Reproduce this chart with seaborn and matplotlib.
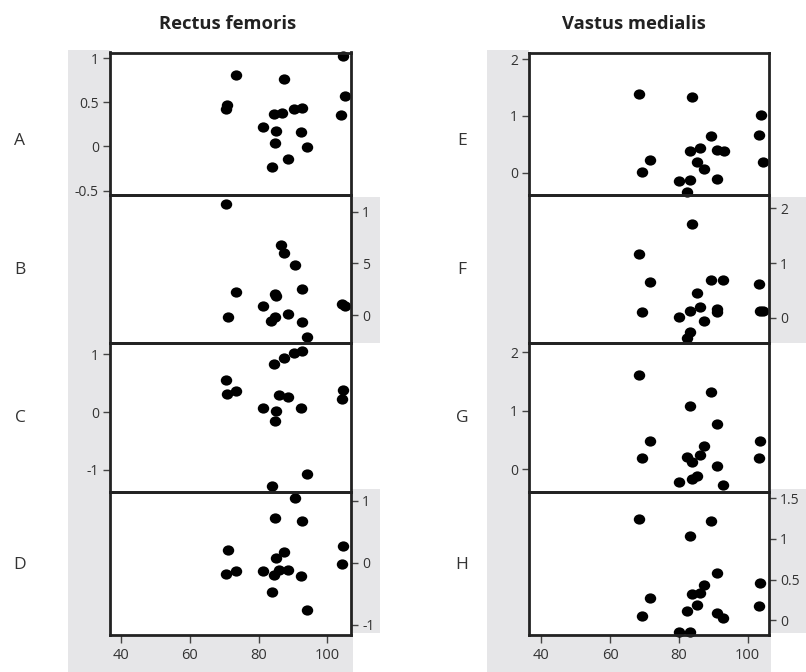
import matplotlib
matplotlib.use("Agg")
import matplotlib.pyplot as plt
from matplotlib.patches import Rectangle
from matplotlib.path import Path
from matplotlib.transforms import Affine2D
import seaborn as sns
import pandas as pd

sns.set_theme(style="ticks")
plt.rcParams['font.family'] = ['Open Sans', 'DejaVu Sans']

# ---------------- data ----------------
col_titles = ["Rectus femoris", "Vastus medialis"]
row_labels_left = ["A", "B", "C", "D"]
row_labels_right = ["E", "F", "G", "H"]
x_ticks = [40, 60, 80, 100]

a_x = [73.4, 70.7, 70.4, 87.4, 104.5, 105.2, 104.0, 81.4, 84.5, 86.7, 90.4, 92.7, 85.1, 92.4, 84.8, 94.0, 88.7, 83.8]
a_y = [0.81, 0.47, 0.43, 0.76, 1.02, 0.575, 0.355, 0.22, 0.367, 0.38, 0.43, 0.44, 0.17, 0.16, 0.04, -0.01, -0.14, -0.23]
a_ticks = [-0.5, 0, 0.5, 1]
a_labels = ["-0.5", "0", "0.5", "1"]

b_x = [70.5, 86.5, 87.4, 90.6, 73.5, 84.8, 85.2, 92.6, 81.4, 104.2, 105.2, 71.0, 88.5, 84.8, 83.5, 92.6, 94.0]
b_y = [1.08, 0.675, 0.60, 0.49, 0.227, 0.205, 0.185, 0.253, 0.09, 0.107, 0.09, -0.02, 0.013, -0.02, -0.056, -0.07, -0.21]
b_ticks = [0, 0.5, 1]
b_labels = ["0", "5", "1"]

c_x = [84.6, 87.4, 90.4, 92.6, 70.5, 70.9, 73.5, 86.0, 88.7, 104.5, 104.2, 81.4, 85.1, 92.4, 84.8, 94.0, 83.8]
c_y = [0.84, 0.93, 1.015, 1.05, 0.55, 0.31, 0.365, 0.29, 0.26, 0.38, 0.22, 0.065, 0.02, 0.065, -0.16, -1.07, -1.27]
c_ticks = [-1, 0, 1]
c_labels = ["-1", "0", "1"]

d_x = [90.6, 84.8, 92.6, 71.0, 104.5, 104.2, 87.5, 85.1, 70.5, 73.5, 81.4, 86.0, 88.7, 84.6, 92.4, 83.8, 94.0]
d_y = [1.04, 0.72, 0.68, 0.2, 0.27, -0.016, 0.17, 0.076, -0.18, -0.13, -0.13, -0.11, -0.11, -0.2, -0.22, -0.48, -0.77]
d_ticks = [-1, 0, 1]
d_labels = ["-1", "0", "1"]

e_x = [68.5, 83.7, 103.8, 103.3, 104.5, 89.2, 86.1, 83.2, 91.2, 93.1, 71.6, 85.2, 87.3, 69.2, 80.0, 83.2, 91.2, 82.4]
e_y = [1.39, 1.34, 1.01, 0.67, 0.19, 0.65, 0.44, 0.38, 0.40, 0.38, 0.22, 0.19, 0.06, 0.007, -0.145, -0.13, -0.10, -0.33]
e_ticks = [0, 1, 2]
e_labels = ["0", "1", "2"]

f_x = [83.7, 68.5, 71.6, 89.2, 92.9, 103.3, 85.2, 69.2, 83.2, 86.1, 91.2, 91.2, 103.6, 104.5, 80.0, 87.3, 83.2, 82.4]
f_y = [1.72, 1.16, 0.65, 0.68, 0.68, 0.62, 0.45, 0.11, 0.13, 0.19, 0.155, 0.11, 0.13, 0.13, 0.007, -0.055, -0.26, -0.38]
f_ticks = [0, 1, 2]
f_labels = ["0", "1", "2"]

g_x = [68.5, 89.2, 83.2, 91.2, 71.6, 103.6, 87.3, 86.1, 69.2, 103.3, 82.4, 83.7, 91.2, 85.4, 83.7, 80.0, 92.9]
g_y = [1.6, 1.31, 1.08, 0.77, 0.48, 0.48, 0.40, 0.24, 0.19, 0.19, 0.2, 0.13, 0.056, -0.11, -0.17, -0.22, -0.28]
g_ticks = [0, 1, 2]
g_labels = ["0", "1", "2"]

h_x = [68.5, 89.2, 83.2, 91.2, 103.6, 87.3, 83.7, 86.1, 71.6, 85.4, 103.3, 82.4, 91.2, 92.9, 69.2, 80.0, 83.2]
h_y = [1.24, 1.22, 1.04, 0.58, 0.46, 0.44, 0.32, 0.34, 0.27, 0.19, 0.18, 0.11, 0.09, 0.033, 0.05, -0.14, -0.14]
h_ticks = [0, 0.5, 1, 1.5]
h_labels = ["0", "0.5", "1", "1.5"]

# ---------------- layout ----------------
W, H = 806, 672
fig = plt.figure(figsize=(W / 100, H / 100), dpi=100)
fig.patch.set_facecolor('white')


def fx(px):
    return px / W


def fy(py):
    return 1 - py / H


GRAY = '#e6e6e8'
gray_boxes = [
    (68, 50, 110, 672), (68, 635, 353, 672),
    (351, 197, 380, 343), (351, 489, 380, 633),
    (487, 50, 529, 672), (487, 634, 771, 672),
    (769, 197, 806, 343), (769, 489, 806, 633),
]
for x0, y0, x1, y1 in gray_boxes:
    fig.patches.append(Rectangle((fx(x0), fy(y1)), (x1 - x0) / W, (y1 - y0) / H,
                                 transform=fig.transFigure, facecolor=GRAY,
                                 edgecolor='none', zorder=-5))

# slightly oval dot marker
oval = Path.unit_circle().transformed(Affine2D().scale(1.06, 0.95))

cols = [(110, 351), (529, 769)]
rows = [(52.5, 195), (195, 343.3), (343.3, 491.7), (491.7, 634.5)]
xlims = [(36.8, 106.9), (36.4, 106.2)]

panels = [
    (a_x, a_y, a_ticks, a_labels, (-0.549, 1.064), 'left', 0, 0),
    (b_x, b_y, b_ticks, b_labels, (-0.273, 1.163), 'right', 0, 1),
    (c_x, c_y, c_ticks, c_labels, (-1.377, 1.19), 'left', 0, 2),
    (d_x, d_y, d_ticks, d_labels, (-1.16, 1.15), 'right', 0, 3),
    (e_x, e_y, e_ticks, e_labels, (-0.39, 2.115), 'left', 1, 0),
    (f_x, f_y, f_ticks, f_labels, (-0.47, 2.245), 'right', 1, 1),
    (g_x, g_y, g_ticks, g_labels, (-0.386, 2.15), 'left', 1, 2),
    (h_x, h_y, h_ticks, h_labels, (-0.173, 1.578), 'right', 1, 3),
]

for xs, ys, ticks, labels, ylim, side, ci, ri in panels:
    cx0, cx1 = cols[ci]
    ry0, ry1 = rows[ri]
    ax = fig.add_axes([fx(cx0), fy(ry1), (cx1 - cx0) / W, (ry1 - ry0) / H])
    ax.set_facecolor('none')
    df = pd.DataFrame({'x': xs, 'y': ys})
    sns.scatterplot(data=df, x='x', y='y', ax=ax, color='black', s=68,
                    marker=oval, linewidth=0, clip_on=False, zorder=5)
    ax.set_xlim(*xlims[ci])
    ax.set_ylim(*ylim)
    ax.set_xlabel('')
    ax.set_ylabel('')
    ax.set_yticks(ticks)
    ax.set_yticklabels(labels)
    if side == 'right':
        ax.yaxis.tick_right()
    else:
        ax.yaxis.tick_left()
    ax.tick_params(axis='y', direction='out', length=5, width=1, color='#444',
                   labelsize=10, labelcolor='#333', pad=3)
    if ri == 3:
        ax.set_xticks(x_ticks)
        ax.set_xticklabels([str(t) for t in x_ticks])
        ax.tick_params(axis='x', direction='out', length=6, width=1, color='#444',
                       labelsize=10.5, labelcolor='#333', pad=4)
    else:
        ax.set_xticks(x_ticks)
        ax.tick_params(axis='x', bottom=False, labelbottom=False)
    for sp in ax.spines.values():
        sp.set_visible(True)
        sp.set_linewidth(2)
        sp.set_color('#222')
        sp.set_zorder(6)

# column titles
fig.text(fx(228), fy(24), col_titles[0], ha='center', va='center',
         fontsize=13.2, fontweight='bold', color='#222')
fig.text(fx(634), fy(24), col_titles[1], ha='center', va='center',
         fontsize=13.2, fontweight='bold', color='#222')

# row labels
label_y = [141, 270, 418, 565]
for lab, yy in zip(row_labels_left, label_y):
    fig.text(fx(20), fy(yy), lab, ha='center', va='center', fontsize=12.5, color='#333')
for lab, yy in zip(row_labels_right, label_y):
    fig.text(fx(462), fy(yy), lab, ha='center', va='center', fontsize=12.5, color='#333')

fig.savefig('out.png', dpi=100, facecolor='white')
